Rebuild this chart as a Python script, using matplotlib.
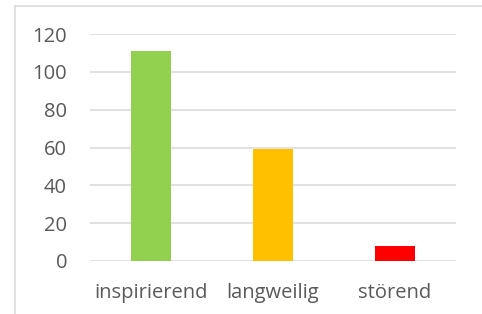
import matplotlib.pyplot as plt
from matplotlib.lines import Line2D

categories = ["inspirierend", "langweilig", "störend"]
values = [111, 59, 8]
colors = ["#92D050", "#FFC000", "#FF0000"]
yticks = [0, 20, 40, 60, 80, 100, 120]

W, H = 482, 314
fig = plt.figure(figsize=(W / 100, H / 100), dpi=100)
plt.rcParams['font.family'] = ['Open Sans', 'DejaVu Sans']

# plot area in pixels
left, right, top, bottom = 90, 456, 34, 261
ax = fig.add_axes([left / W, 1 - bottom / H, (right - left) / W, (bottom - top) / H])

ax.bar(range(len(categories)), values, width=0.32, color=colors, zorder=3)
ax.set_xlim(-0.5, 2.5)
ax.set_ylim(0, 120)
ax.set_yticks(yticks)
ax.set_xticks(range(len(categories)))
ax.set_xticklabels(categories)
ax.grid(axis='y', color='#D9D9D9', linewidth=1.1, zorder=0)
for s in ax.spines.values():
    s.set_visible(False)
ax.tick_params(length=0, labelsize=14.5, colors='#595959', pad=0)
ax.tick_params(axis='y', pad=16.5)
ax.tick_params(axis='x', pad=16)

# chart border (partially visible)
x0 = 14.5 / W
y0 = 1 - 5.5 / H
fig.add_artist(Line2D([x0, 1.0], [y0, y0], transform=fig.transFigure, color='#D9D9D9', linewidth=1.1))
fig.add_artist(Line2D([x0, x0], [0, y0], transform=fig.transFigure, color='#D9D9D9', linewidth=1.1))

fig.savefig("out.png", dpi=100)
